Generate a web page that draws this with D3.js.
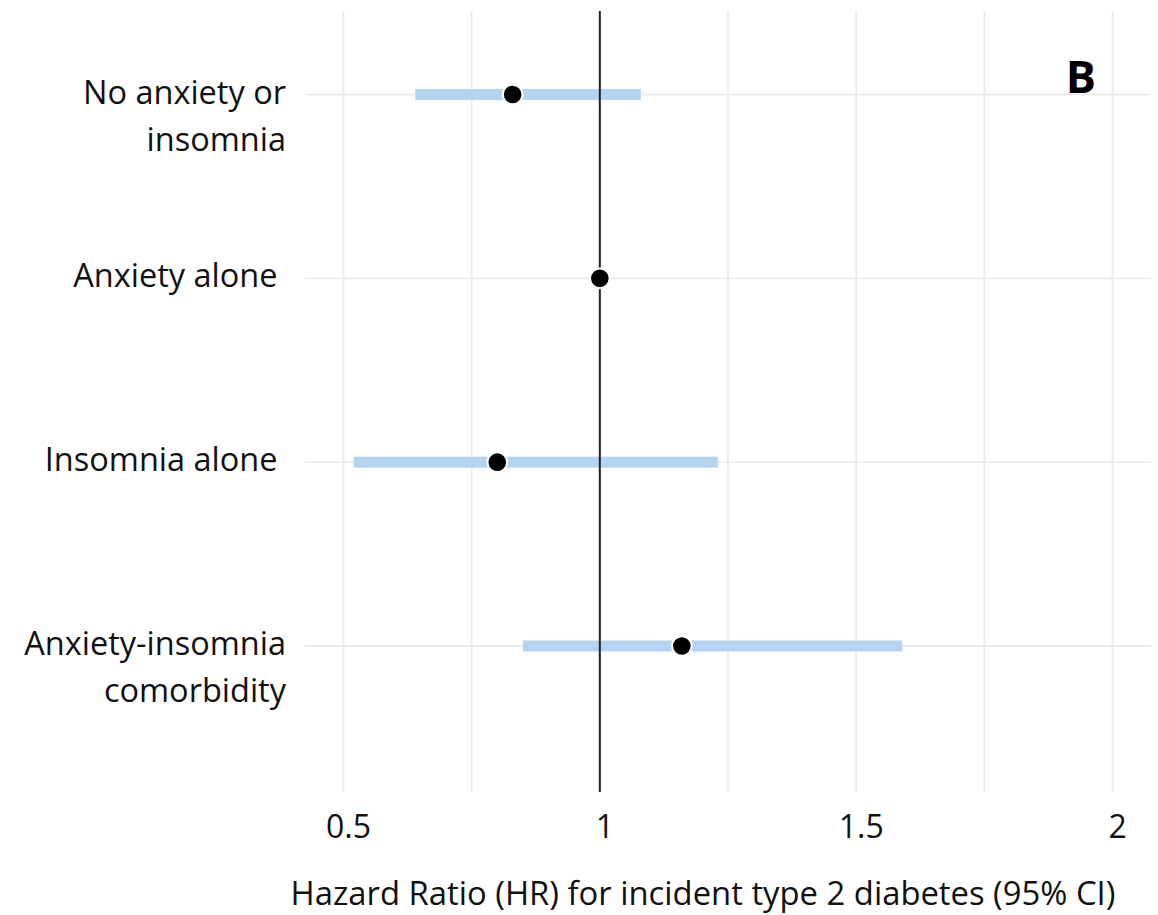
<!DOCTYPE html>
<html>
<head>
<meta charset="utf-8">
<script src="https://cdn.jsdelivr.net/npm/d3@7"></script>
<style>
  html, body { margin: 0; padding: 0; background: #fff; }
  svg { display: block; font-family: "Open Sans", "Noto Sans", sans-serif; }
</style>
</head>
<body>
<svg id="chart" width="1158" height="915"></svg>
<script>
// ---- data ----
const categories = ["No anxiety or\ninsomnia", "Anxiety alone ", "Insomnia alone ", "Anxiety-insomnia\ncomorbidity"];
const hr    = [0.83, 1.00, 0.80, 1.16];
const lower = [0.64, 1.00, 0.52, 0.85];
const upper = [1.08, 1.00, 1.23, 1.59];
const xTicks = [0.5, 1, 1.5, 2];
const xTickLabels = ["0.5", "1", "1.5", "2"];
const xGrid = [0.5, 0.75, 1, 1.25, 1.5, 1.75, 2];
const xTitle = "Hazard Ratio (HR) for incident type 2 diabetes (95% CI)";
const panelLabel = "B";

// ---- layout ----
const svg = d3.select("#chart");
const panel = { left: 305, right: 1151, top: 11, bottom: 792 };

const x = d3.scaleLinear().domain([0.425, 2.075]).range([panel.left, panel.right]);
const y = d3.scaleLinear().domain([0, categories.length - 1]).range([94.5, 646]);

const rows = categories.map((c, i) => ({ c, i, hr: hr[i], lo: lower[i], hi: upper[i] }));

// grid
const g = svg.append("g");
g.selectAll("line.vg").data(xGrid).join("line")
  .attr("x1", d => x(d)).attr("x2", d => x(d))
  .attr("y1", panel.top).attr("y2", panel.bottom)
  .attr("stroke", "#ebebeb").attr("stroke-width", 1.8);
g.selectAll("line.hg").data(rows).join("line")
  .attr("x1", panel.left).attr("x2", panel.right)
  .attr("y1", d => y(d.i)).attr("y2", d => y(d.i))
  .attr("stroke", "#ebebeb").attr("stroke-width", 1.8);

// CI bars
g.selectAll("rect.ci").data(rows.filter(d => d.hi > d.lo)).join("rect")
  .attr("x", d => x(d.lo)).attr("width", d => x(d.hi) - x(d.lo))
  .attr("y", d => y(d.i) - 5.5).attr("height", 11)
  .attr("fill", "#b3d4f1");

// reference line at HR = 1
g.append("line")
  .attr("x1", x(1)).attr("x2", x(1))
  .attr("y1", panel.top).attr("y2", panel.bottom)
  .attr("stroke", "#222").attr("stroke-width", 2);

// points
g.selectAll("circle.pt").data(rows).join("circle")
  .attr("cx", d => x(d.hr)).attr("cy", d => y(d.i)).attr("r", 9.8)
  .attr("fill", "#000").attr("stroke", "#fff").attr("stroke-width", 2);

// y labels
const yl = svg.append("g").attr("font-size", 32.5).attr("fill", "#111").attr("text-anchor", "end");
rows.forEach(d => {
  const lines = d.c.split("\n");
  const t = yl.append("text").attr("x", 286).attr("y", y(d.i) + 9).style("white-space", "pre");
  lines.forEach((ln, k) => {
    t.append("tspan").attr("x", 286).attr("dy", k === 0 ? 0 : 47).text(ln);
  });
});

// x tick labels
svg.append("g").attr("font-size", 32).attr("fill", "#111").attr("text-anchor", "middle")
  .selectAll("text").data(xTicks).join("text")
  .attr("x", d => x(d) + 5).attr("y", 838)
  .text((d, i) => xTickLabels[i]);

// x title
svg.append("text").attr("x", 703).attr("y", 905)
  .attr("text-anchor", "middle").attr("font-size", 32.8).attr("fill", "#111")
  .text(xTitle);

// panel label
svg.append("text").attr("x", 1096).attr("y", 93)
  .attr("text-anchor", "end").attr("font-size", 45).attr("font-weight", "bold").attr("fill", "#000")
  .text(panelLabel);
</script>
</body>
</html>
